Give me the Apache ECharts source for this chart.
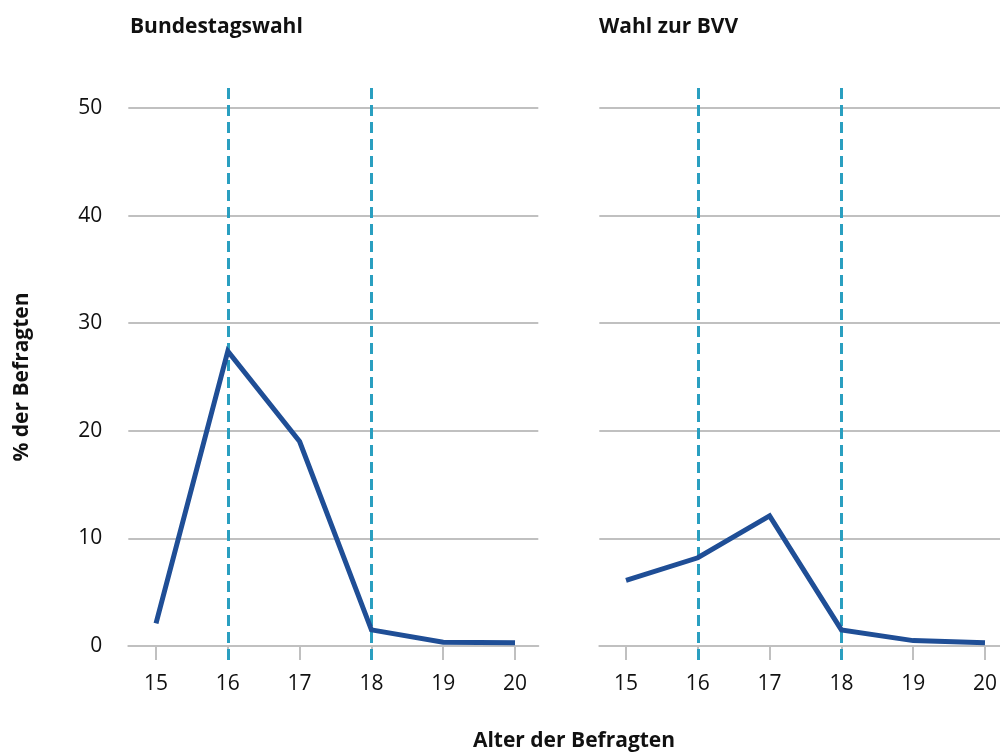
<!DOCTYPE html>
<html><head><meta charset="utf-8">
<script src="https://cdn.jsdelivr.net/npm/echarts@6/dist/echarts.min.js"></script>
<style>html,body{margin:0;padding:0;background:#fff}#c{width:1000px;height:754px}</style>
</head><body><div id="c"></div>
<script>
const ages = [15, 16, 17, 18, 19, 20];
const bundestagswahl = [2.1, 27.4, 19.0, 1.5, 0.35, 0.3];
const bvv = [6.1, 8.2, 12.1, 1.5, 0.5, 0.3];
const markAges = [16, 18];
const yTicks = [0, 10, 20, 30, 40, 50];
const panelTitles = ['Bundestagswahl', 'Wahl zur BVV'];
const yName = '% der Befragten';
const xName = 'Alter der Befragten';

const FONT = 'Open Sans';
const LINE = '#1f4e96';
const DASH = '#2a9fc0';
const GRID = '#c0c0c0';
const panels = [
  {left: 128.3, right: 1000 - 538.3, min: 14.614, max: 20.324, labels: true},
  {left: 599.3, right: 0, min: 14.628, max: 20.209, labels: false}
];

const chart = echarts.init(document.getElementById('c'));
const grids = [], xAxes = [], yAxes = [], series = [];
panels.forEach(p => {
  grids.push({left: p.left, right: p.right, top: 108, height: 538});
  grids.push({left: p.left, right: p.right, top: 87, height: 573});
});
panels.forEach((p, i) => {
  const g = i * 2;
  xAxes.push({
    type: 'value', gridIndex: g, min: p.min, max: p.max,
    axisLine: {show: true, lineStyle: {color: GRID, width: 2}},
    axisTick: {show: true, length: 14, lineStyle: {color: GRID, width: 2}, customValues: ages},
    axisLabel: {show: true, customValues: ages, fontFamily: FONT, fontSize: 21, color: '#111', margin: 28},
    splitLine: {show: false}
  });
  xAxes.push({type: 'value', gridIndex: g + 1, min: p.min, max: p.max, show: false});
  yAxes.push({
    type: 'value', gridIndex: g, min: 0, max: 50, interval: 10,
    axisLine: {show: false}, axisTick: {show: false},
    axisLabel: {show: p.labels, fontFamily: FONT, fontSize: 21, color: '#111', margin: 26},
    splitLine: {show: true, lineStyle: {color: GRID, width: 2}},
    name: p.labels ? yName : '', nameLocation: 'middle', nameGap: 96,
    nameTextStyle: {fontFamily: FONT, fontSize: 21, fontWeight: 'bold', color: '#111'}
  });
  yAxes.push({type: 'value', gridIndex: g + 1, min: 0, max: 1, show: false});
});
const dataSets = [bundestagswahl, bvv];
dataSets.forEach((d, i) => {
  series.push({
    type: 'line', xAxisIndex: i * 2 + 1, yAxisIndex: i * 2 + 1, data: [], z: 3,
    silent: true,
    markLine: {
      symbol: 'none', silent: true, label: {show: false},
      lineStyle: {color: DASH, width: 3, type: [11, 6]},
      data: markAges.map(a => ({xAxis: a}))
    }
  });
  series.push({
    type: 'line', xAxisIndex: i * 2, yAxisIndex: i * 2, z: 5,
    data: ages.map((a, k) => [a, d[k]]),
    showSymbol: false, symbol: 'none',
    lineStyle: {color: LINE, width: 5, join: 'miter'}
  });
});

const tStyle = {fontFamily: FONT, fontSize: 21, fontWeight: 'bold', color: '#111'};
chart.setOption({
  animation: false,
  backgroundColor: '#fff',
  title: [
    {text: panelTitles[0], left: 125, top: 12, textStyle: tStyle},
    {text: panelTitles[1], left: 594, top: 12, textStyle: tStyle},
    {text: xName, left: 569, textAlign: 'center', top: 726, textStyle: tStyle}
  ],
  grid: grids, xAxis: xAxes, yAxis: yAxes, series: series
});
</script></body></html>
